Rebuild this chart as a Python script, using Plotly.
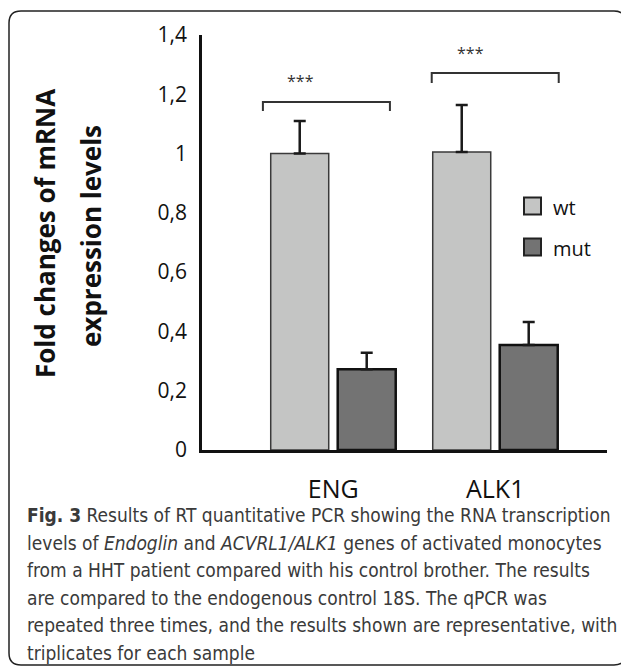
import plotly.graph_objects as go

# ---- data ----
genes = ["ENG", "ALK1"]
wt_values = [1.0, 1.005]
wt_errors = [0.11, 0.159]
mut_values = [0.272, 0.354]
mut_errors = [0.056, 0.078]
series_names = ["wt", "mut"]
y_title_lines = ["Fold changes of mRNA", "expression levels"]
caption_lines = [
    "<b>Fig. 3</b> Results of RT quantitative PCR showing the RNA transcription",
    "levels of <i>Endoglin</i> and <i>ACVRL1/ALK1</i> genes of activated monocytes",
    "from a HHT patient compared with his control brother. The results",
    "are compared to the endogenous control 18S. The qPCR was",
    "repeated three times, and the results shown are representative, with",
    "triplicates for each sample",
]

# The page body has an 8px margin, so the figure is drawn 8px smaller and
# every layout position below is given in screen pixels of the 629x668 window.
OFF = 8
W, H = 629 - OFF, 668 - OFF
PLOT_L, PLOT_R, PLOT_T, PLOT_B = 202, 607, 35, 450   # screen pixels
ML = PLOT_L - OFF
MR = W - (PLOT_R - OFF)
MT = PLOT_T - OFF
MB = H - (PLOT_B - OFF)
PW, PH = W - ML - MR, H - MT - MB

def px(x):
    return (x - PLOT_L) / PW

def py(y):
    return (PLOT_B - y) / PH

WT_COLOR = "#c4c5c4"
MUT_COLOR = "#737373"
FONT = "Open Sans"
CAP_FONT = "Liberation Sans Narrow, DejaVu Sans Condensed, Open Sans, sans-serif"

fig = go.Figure()
fig.add_trace(go.Bar(
    x=genes, y=wt_values, name=series_names[0],
    marker=dict(color=WT_COLOR, line=dict(color="#3a3a3a", width=1.5)),
    error_y=dict(type="data", array=wt_errors, arrayminus=[0] * len(wt_errors),
                 symmetric=False, color="#1a1a1a", thickness=2.5, width=6),
))
fig.add_trace(go.Bar(
    x=genes, y=mut_values, name=series_names[1],
    marker=dict(color=MUT_COLOR, line=dict(color="#111111", width=2.5)),
    error_y=dict(type="data", array=mut_errors, arrayminus=[0] * len(mut_errors),
                 symmetric=False, color="#1a1a1a", thickness=2.5, width=6),
))

shapes = []
annotations = []

# significance brackets (x in category-index units, y in data units)
brackets = [
    # x0, x1, y_top, y_end, star_x, star_y
    (-0.434, 0.35, 1.174, 1.144, -0.20, 1.245),
    (0.608, 1.392, 1.272, 1.238, 0.849, 1.339),
]
for x0, x1, yt, ye, sx, sy in brackets:
    shapes.append(dict(type="path", xref="x", yref="y",
                       path=f"M {x0},{ye} L {x0},{yt} L {x1},{yt} L {x1},{ye}",
                       line=dict(color="#333333", width=2)))
    annotations.append(dict(x=sx, y=sy, xref="x", yref="y", text="***",
                            showarrow=False, font=dict(family=FONT, size=16, color="#333333")))

# legend (manual, to match square size)
legend_items = [(series_names[0], WT_COLOR, 206), (series_names[1], MUT_COLOR, 247)]
for name, col, cy in legend_items:
    shapes.append(dict(type="rect", xref="paper", yref="paper",
                       x0=px(524), x1=px(541), y0=py(cy - 8.5), y1=py(cy + 8.5),
                       fillcolor=col, line=dict(color="#222222", width=2)))
    annotations.append(dict(x=px(551), y=py(cy + 1), xref="paper", yref="paper",
                            xanchor="left", yanchor="middle", text=name, showarrow=False,
                            font=dict(family=FONT, size=20, color="#111111")))

# y-axis title (two lines)
for txt, cx, cy in [(y_title_lines[0], 45, 234), (y_title_lines[1], 91, 236)]:
    annotations.append(dict(x=px(cx), y=py(cy), xref="paper", yref="paper",
                            xanchor="center", yanchor="middle", textangle=-90,
                            text=f"<b>{txt}</b>", showarrow=False,
                            font=dict(family=FONT, size=26, color="#111111")))

# caption
for i, line in enumerate(caption_lines):
    annotations.append(dict(x=px(25), y=py(515 + 27.6 * i), xref="paper", yref="paper",
                            xanchor="left", yanchor="middle", text=line, showarrow=False,
                            font=dict(family=CAP_FONT, size=19, color="#3a3a3a")))

# rounded border box
L, R, T, B, r = 9, 626, 11, 665, 12
path = (f"M {px(L)},{py(T + r)} Q {px(L)},{py(T)} {px(L + r)},{py(T)} "
        f"L {px(R - r)},{py(T)} Q {px(R)},{py(T)} {px(R)},{py(T + r)} "
        f"L {px(R)},{py(B - r)} Q {px(R)},{py(B)} {px(R - r)},{py(B)} "
        f"L {px(L + r)},{py(B)} Q {px(L)},{py(B)} {px(L)},{py(B - r)} Z")
shapes.append(dict(type="path", xref="paper", yref="paper", path=path,
                   line=dict(color="#222222", width=1.5), layer="below"))

fig.update_layout(
    width=W, height=H, autosize=False,
    margin=dict(l=ML, r=MR, t=MT, b=MB),
    paper_bgcolor="white", plot_bgcolor="white",
    separators=",.",
    barmode="group", bargap=0.173, bargroupgap=0.134,
    showlegend=False,
    shapes=shapes, annotations=annotations,
    font=dict(family=FONT, color="#111111"),
)
fig.update_xaxes(
    range=[-0.81, 1.69], showgrid=False, zeroline=False,
    showline=True, linewidth=2.5, linecolor="#111111",
    ticks="", ticklabelstandoff=15,
    tickfont=dict(family=FONT, size=25, color="#111111"),
)
fig.update_yaxes(
    range=[0, 1.4], dtick=0.2, tick0=0, showgrid=False, zeroline=False,
    showline=True, linewidth=2.5, linecolor="#111111",
    ticks="", ticklabelstandoff=8,
    tickfont=dict(family=FONT, size=21, color="#111111"),
)

fig.write_html("out.html")
